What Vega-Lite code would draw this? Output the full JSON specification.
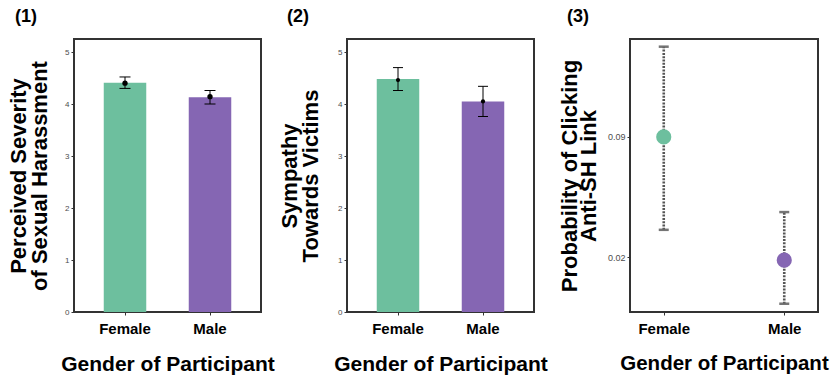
{
  "$schema": "https://vega.github.io/schema/vega-lite/v6.json",
  "background": "white",
  "padding": {"left": 6, "top": 7, "right": 5, "bottom": 0},
  "spacing": 8,
  "resolve": {"scale": {"x": "independent", "y": "independent", "color": "independent"}},
  "config": {
    "view": {"stroke": "#333333", "strokeWidth": 2},
    "font": "Liberation Sans",
    "axis": {
      "domain": false, "grid": false, "tickColor": "#333333", "tickSize": 3, "tickWidth": 1,
      "labelFont": "Liberation Sans", "labelColor": "#4d4d4d", "labelFontSize": 8,
      "titleFont": "Liberation Sans", "titleFontWeight": "bold", "titleFontSize": 22, "titleColor": "black", "titleLineHeight": 21
    },
    "axisX": {"labelFontSize": 15, "labelFontWeight": "bold", "labelColor": "black", "labelPadding": 6, "labelAngle": 0, "titlePadding": 17, "titleFontSize": 21},
    "title": {"font": "Liberation Sans", "fontSize": 18, "fontWeight": "bold", "color": "black", "anchor": "start", "frame": "group", "baseline": "alphabetic", "offset": 13}
  },
  "hconcat": [
    {
      "spacing": 1,
      "resolve": {"scale": {"x": "independent", "y": "independent", "color": "independent"}},
      "hconcat": [
        {
          "width": 187, "height": 273,
          "title": {"text": "(1)", "dx": -59},
          "data": {"values": [
            {"g": "Female", "m": 4.41, "pt": 4.40, "lo": 4.30, "hi": 4.52},
            {"g": "Male", "m": 4.13, "pt": 4.14, "lo": 4.00, "hi": 4.26}
          ]},
          "layer": [
            {"mark": {"type": "bar"},
             "encoding": {
               "x": {"field": "g", "type": "nominal", "scale": {"paddingInner": 0.5, "paddingOuter": 0.35}, "axis": {"title": "Gender of Participant"}},
               "y": {"field": "m", "type": "quantitative", "scale": {"domain": [0, 5.25], "nice": false}, "axis": {"values": [0, 1, 2, 3, 4, 5], "title": ["Perceived Severity", "of Sexual Harassment"], "titlePadding": 13}},
               "color": {"field": "g", "type": "nominal", "scale": {"domain": ["Female", "Male"], "range": ["#6dbf9e", "#8566b3"]}, "legend": null}
             }},
            {"mark": {"type": "rule", "color": "black", "strokeWidth": 1},
             "encoding": {"x": {"field": "g", "type": "nominal"}, "y": {"field": "lo", "type": "quantitative"}, "y2": {"field": "hi"}}},
            {"mark": {"type": "tick", "color": "black", "thickness": 1, "size": 11, "opacity": 1},
             "encoding": {"x": {"field": "g", "type": "nominal"}, "y": {"field": "lo", "type": "quantitative"}}},
            {"mark": {"type": "tick", "color": "black", "thickness": 1, "size": 11, "opacity": 1},
             "encoding": {"x": {"field": "g", "type": "nominal"}, "y": {"field": "hi", "type": "quantitative"}}},
            {"mark": {"type": "circle", "color": "black", "size": 28, "opacity": 1},
             "encoding": {"x": {"field": "g", "type": "nominal"}, "y": {"field": "pt", "type": "quantitative"}}}
          ]
        },
        {
          "width": 187, "height": 273,
          "title": {"text": "(2)", "dx": -60},
          "data": {"values": [
            {"g": "Female", "m": 4.48, "pt": 4.46, "lo": 4.26, "hi": 4.70},
            {"g": "Male", "m": 4.05, "pt": 4.05, "lo": 3.76, "hi": 4.34}
          ]},
          "layer": [
            {"mark": {"type": "bar"},
             "encoding": {
               "x": {"field": "g", "type": "nominal", "scale": {"paddingInner": 0.5, "paddingOuter": 0.35}, "axis": {"title": "Gender of Participant"}},
               "y": {"field": "m", "type": "quantitative", "scale": {"domain": [0, 5.25], "nice": false}, "axis": {"values": [0, 1, 2, 3, 4, 5], "title": ["Sympathy", "Towards Victims"], "titlePadding": 15}},
               "color": {"field": "g", "type": "nominal", "scale": {"domain": ["Female", "Male"], "range": ["#6dbf9e", "#8566b3"]}, "legend": null}
             }},
            {"mark": {"type": "rule", "color": "black", "strokeWidth": 1},
             "encoding": {"x": {"field": "g", "type": "nominal"}, "y": {"field": "lo", "type": "quantitative"}, "y2": {"field": "hi"}}},
            {"mark": {"type": "tick", "color": "black", "thickness": 1, "size": 10, "opacity": 1},
             "encoding": {"x": {"field": "g", "type": "nominal"}, "y": {"field": "lo", "type": "quantitative"}}},
            {"mark": {"type": "tick", "color": "black", "thickness": 1, "size": 10, "opacity": 1},
             "encoding": {"x": {"field": "g", "type": "nominal"}, "y": {"field": "hi", "type": "quantitative"}}},
            {"mark": {"type": "circle", "color": "black", "size": 18, "opacity": 1},
             "encoding": {"x": {"field": "g", "type": "nominal"}, "y": {"field": "pt", "type": "quantitative"}}}
          ]
        }
      ]
    },
    {
      "width": 188, "height": 273,
      "title": {"text": "(3)", "dx": -63},
      "data": {"values": [
        {"g": "Female", "p": 0.09, "lo": 0.0282, "hi": 0.278},
        {"g": "Male", "p": 0.0193, "lo": 0.0112, "hi": 0.0352}
      ]},
      "layer": [
        {"mark": {"type": "rule", "color": "#555555", "strokeWidth": 2.6, "strokeDash": [2, 1.3]},
         "encoding": {
           "x": {"field": "g", "type": "nominal", "scale": {"type": "point", "padding": 0.28}, "axis": {"title": "Gender of Participant", "titleFontSize": 20.5}},
           "y": {"field": "lo", "type": "quantitative", "scale": {"type": "log", "domain": [0.0101, 0.306], "nice": false}, "axis": {"values": [0.02, 0.09], "format": ".2f", "title": ["Probability of Clicking", "Anti-SH Link"], "titlePadding": 7, "titleLineHeight": 19, "labelFontSize": 9}},
           "y2": {"field": "hi"}
         }},
        {"mark": {"type": "tick", "color": "#666666", "thickness": 2.5, "size": 10, "opacity": 0.9},
         "encoding": {"x": {"field": "g", "type": "nominal"}, "y": {"field": "lo", "type": "quantitative"}}},
        {"mark": {"type": "tick", "color": "#666666", "thickness": 2.5, "size": 10, "opacity": 0.9},
         "encoding": {"x": {"field": "g", "type": "nominal"}, "y": {"field": "hi", "type": "quantitative"}}},
        {"mark": {"type": "circle", "size": 230, "opacity": 1},
         "encoding": {
           "x": {"field": "g", "type": "nominal"},
           "y": {"field": "p", "type": "quantitative"},
           "color": {"field": "g", "type": "nominal", "scale": {"domain": ["Female", "Male"], "range": ["#6dbf9e", "#8566b3"]}, "legend": null}
         }}
      ]
    }
  ]
}
